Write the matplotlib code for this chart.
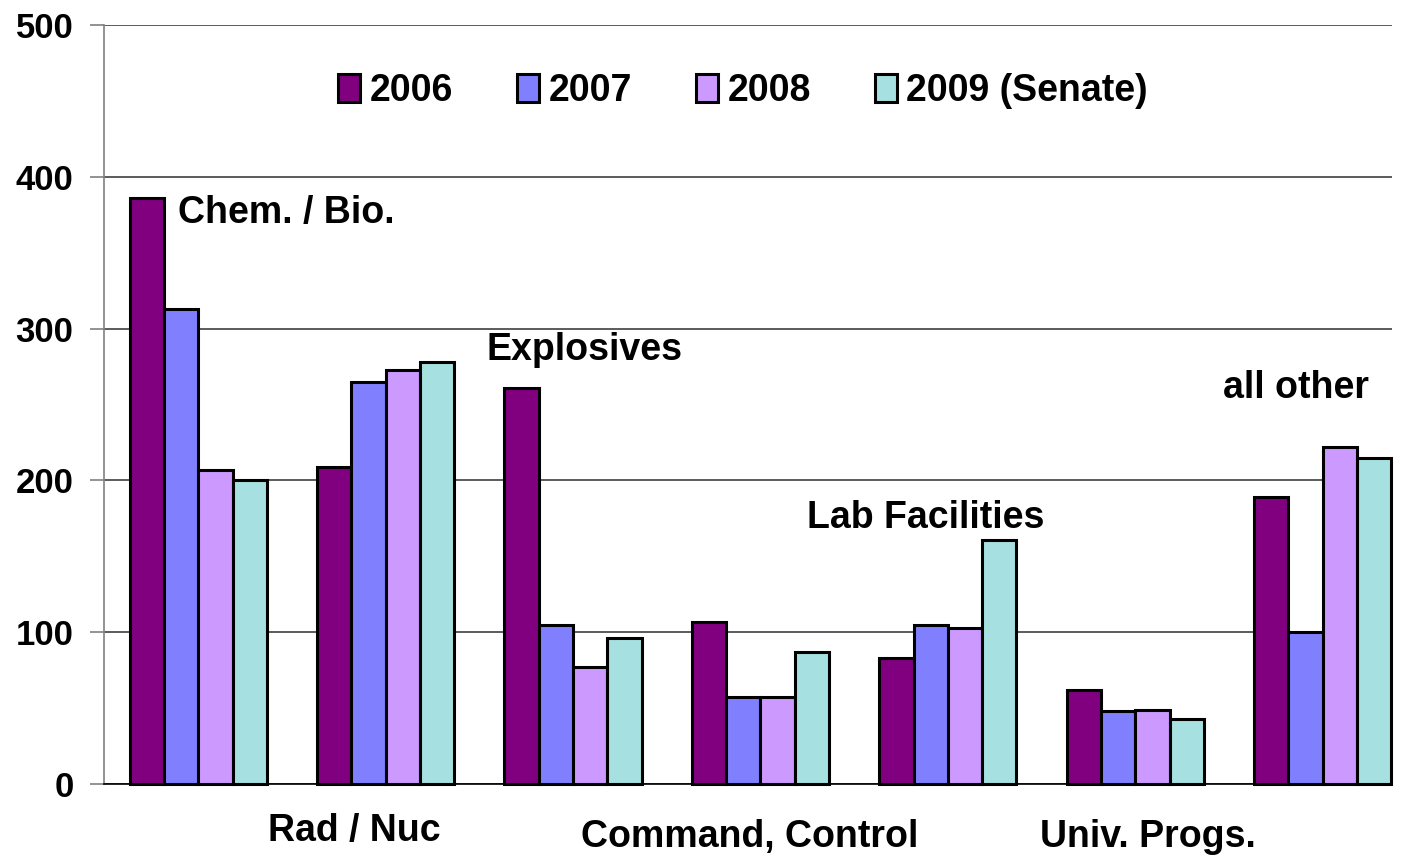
import numpy as np
import matplotlib.pyplot as plt

plt.rcParams['font.family'] = ['Liberation Sans', 'DejaVu Sans']
plt.rcParams['font.weight'] = 'bold'

# data
groups = ["Chem. / Bio.", "Rad / Nuc", "Explosives", "Command, Control",
          "Lab Facilities", "Univ. Progs.", "all other"]
years = ["2006", "2007", "2008", "2009 (Senate)"]
v2006 = [386, 209, 261, 107, 83, 62, 189]
v2007 = [313, 265, 105, 57, 105, 48, 100]
v2008 = [207, 273, 77, 57, 103, 49, 222]
v2009 = [200, 278, 96, 87, 161, 43, 215]
colors = ["#800080", "#8080FF", "#CC99FF", "#A6E0E0"]

# label placement (x in group units, y in data units)
label_pos = [(-0.11, 376, 'left'), (0.83, -31, 'center'), (1.54, 286, 'left'),
             (2.94, -35, 'center'), (3.25, 175, 'left'), (5.07, -35, 'center'),
             (5.47, 261, 'left')]

fig = plt.figure(figsize=(14.06, 8.6), dpi=100)
ax = fig.add_axes([0.074, 0.0884, 0.916, 0.8825])

x = np.arange(len(groups))
w = 0.183
for i, (vals, lab) in enumerate(zip([v2006, v2007, v2008, v2009], years)):
    ax.bar(x + (i - 1.5) * w, vals, w, color=colors[i], edgecolor="black",
           linewidth=2.2, label=lab, zorder=3, clip_on=False)

ax.set_xlim(-0.503, 6.37)
ax.set_ylim(0, 500)
ax.set_yticks([0, 100, 200, 300, 400, 500])
ax.set_xticks([])
ax.yaxis.grid(True, color="#404040", linewidth=1.2, zorder=0)
ax.tick_params(axis='y', labelsize=25, length=10, width=1.2, color="#808080", pad=12)
for s in ["top", "right"]:
    ax.spines[s].set_visible(False)
ax.spines["left"].set_color("#808080")
ax.spines["left"].set_linewidth(1.2)
ax.spines["bottom"].set_color("black")
ax.spines["bottom"].set_linewidth(1.2)

for name, (lx, ly, ha) in zip(groups, label_pos):
    ax.text(lx, ly, name, ha=ha, va='center', fontsize=27, fontweight='bold',
            clip_on=False)

ax.legend(loc='center', bbox_to_anchor=(0.496, 0.913), ncol=4, frameon=False,
          fontsize=27, handlelength=0.6, handleheight=0.75, handletextpad=0.25,
          columnspacing=1.7)

fig.savefig("out.png", dpi=100)
